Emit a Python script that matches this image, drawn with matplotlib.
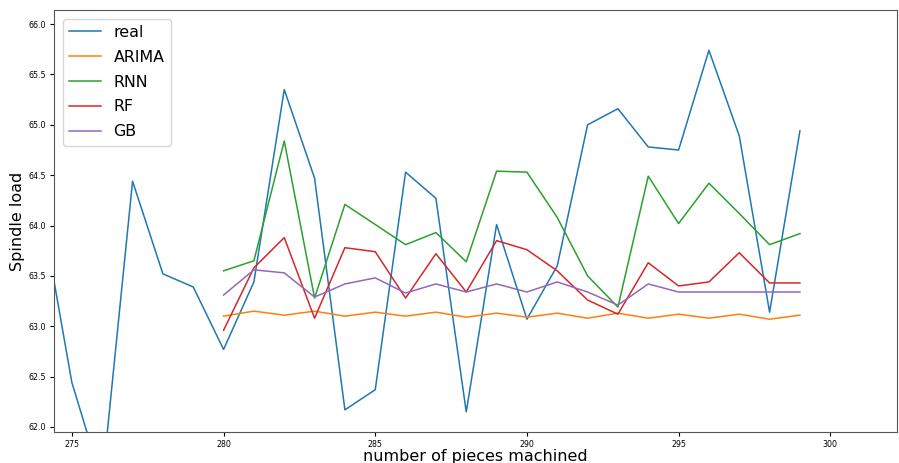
import matplotlib
matplotlib.use('Agg')
import matplotlib.pyplot as plt

# real values
real_x = list(range(274, 300))
real_y = [64.15, 62.44, 61.45, 64.44, 63.52, 63.39, 62.77, 63.44, 65.35, 64.47,
          62.17, 62.37, 64.53, 64.27, 62.15, 64.01, 63.07, 63.60, 65.00, 65.16,
          64.78, 64.75, 65.74, 64.89, 63.14, 64.94]

# predictions
pred_x = list(range(280, 300))
arima = [63.10, 63.15, 63.11, 63.15, 63.10, 63.14, 63.10, 63.14, 63.09, 63.13,
         63.09, 63.13, 63.08, 63.13, 63.08, 63.12, 63.08, 63.12, 63.07, 63.11]
rnn = [63.55, 63.65, 64.84, 63.28, 64.21, 64.01, 63.81, 63.93, 63.64, 64.54,
       64.53, 64.08, 63.50, 63.19, 64.49, 64.02, 64.42, 64.12, 63.81, 63.92]
rf = [62.96, 63.58, 63.88, 63.08, 63.78, 63.74, 63.28, 63.72, 63.34, 63.85,
      63.76, 63.55, 63.26, 63.12, 63.63, 63.40, 63.44, 63.73, 63.43, 63.43]
gb = [63.31, 63.56, 63.53, 63.29, 63.42, 63.48, 63.33, 63.42, 63.34, 63.42,
      63.34, 63.44, 63.34, 63.21, 63.42, 63.34, 63.34, 63.34, 63.34, 63.34]

fig = plt.figure(figsize=(8.99, 4.63), dpi=100)
ax = fig.add_axes([54/899, 1-432/463, (897-54)/899, (432-10)/463])

lw = 1.1
ax.plot(real_x, real_y, lw=lw, label='real')
ax.plot(pred_x, arima, lw=lw, label='ARIMA')
ax.plot(pred_x, rnn, lw=lw, label='RNN')
ax.plot(pred_x, rf, lw=lw, label='RF')
ax.plot(pred_x, gb, lw=lw, label='GB')

ax.set_xlim(274.41, 302.2)
ax.set_ylim(61.95, 66.14)
ax.set_xticks([275, 280, 285, 290, 295, 300])
ax.set_yticks([62.0, 62.5, 63.0, 63.5, 64.0, 64.5, 65.0, 65.5, 66.0])
ax.tick_params(labelsize=5.7, length=3, pad=2.5)
for s in ax.spines.values():
    s.set_color('#555555')
ax.set_xlabel('number of pieces machined', fontsize=11.5)
ax.set_ylabel('Spindle load', fontsize=11.5)
ax.xaxis.set_label_coords(0.5, -0.04)
ax.yaxis.set_label_coords(-0.034, 0.5)
ax.legend(loc='upper left', fontsize=11.4, borderaxespad=0.55, labelspacing=0.62)

plt.savefig('out.png', dpi=100)
